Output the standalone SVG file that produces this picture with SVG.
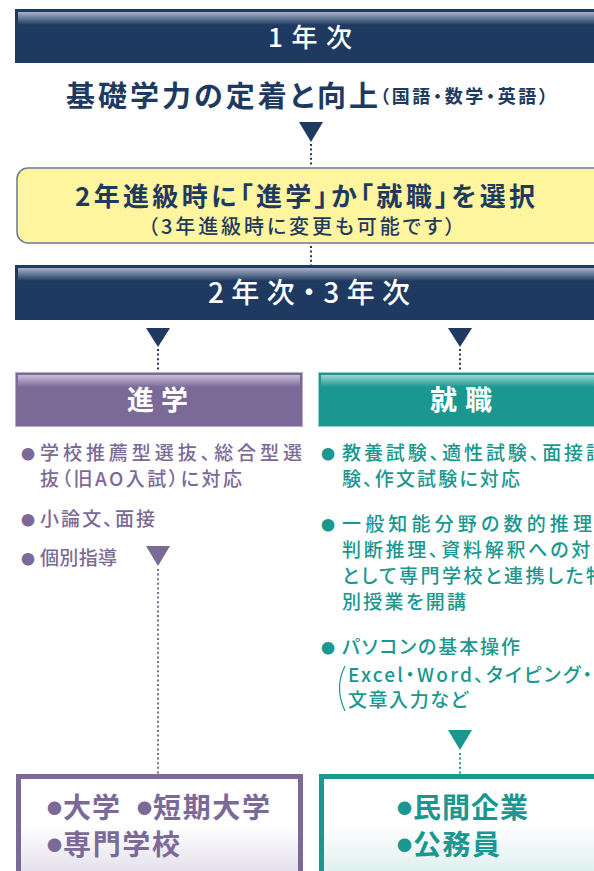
<svg xmlns="http://www.w3.org/2000/svg" width="594" height="871" viewBox="0 0 594 871">
<defs>
<linearGradient id="hlN" x1="0" y1="0" x2="0" y2="1"><stop offset="0" stop-color="#a7b3c7"/><stop offset="1" stop-color="#1f3a60"/></linearGradient>
<linearGradient id="hlP" x1="0" y1="0" x2="0" y2="1"><stop offset="0" stop-color="#c9bfd9"/><stop offset="1" stop-color="#7b6a98"/></linearGradient>
<linearGradient id="hlT" x1="0" y1="0" x2="0" y2="1"><stop offset="0" stop-color="#9fd6d1"/><stop offset="1" stop-color="#1a988f"/></linearGradient>
<linearGradient id="bgP" x1="0" y1="0" x2="0" y2="1"><stop offset="0" stop-color="#ffffff"/><stop offset="0.45" stop-color="#ffffff"/><stop offset="1" stop-color="#dcd6e6"/></linearGradient>
<linearGradient id="bgT" x1="0" y1="0" x2="0" y2="1"><stop offset="0" stop-color="#ffffff"/><stop offset="0.45" stop-color="#ffffff"/><stop offset="1" stop-color="#d3ebe9"/></linearGradient>
</defs>
<style>
text{font-family:"Noto Sans CJK JP","Noto Sans",sans-serif;font-feature-settings:"palt"}
.w{fill:#ffffff;font-weight:700}
.wm{fill:#ffffff;font-weight:500}
.n{fill:#1f3a60;font-weight:700}
.nr{fill:#1f3a60;font-weight:500}
.p{fill:#7b6a98;font-weight:500}
.t{fill:#1a988f;font-weight:500}
.pb{fill:#7b6a98;font-weight:700}
.tb{fill:#1a988f;font-weight:700}
.dn{stroke:#1f3a60;stroke-width:2;stroke-dasharray:2 2.6;fill:none}
.dp{stroke:#7b6a98;stroke-width:2;stroke-dasharray:2 2.6;fill:none}
.dt{stroke:#1a988f;stroke-width:2;stroke-dasharray:2 2.6;fill:none}
</style>
<rect width="594" height="871" fill="#ffffff"/>

<g id="connectors">
<polygon points="299,122 323,122 311,142" fill="#1f3a60"/>
<line class="dn" x1="311" y1="144" x2="311" y2="167"/>
<line class="dn" x1="311" y1="246" x2="311" y2="265"/>
<polygon points="146,328 170,328 158,347" fill="#1f3a60"/>
<line class="dn" x1="158" y1="349" x2="158" y2="372"/>
<polygon points="448,328 472,328 460,347" fill="#1f3a60"/>
<line class="dn" x1="460" y1="349" x2="460" y2="372"/>
<polygon points="146,546 170,546 158,566" fill="#7b6a98"/>
<line class="dp" x1="158" y1="569" x2="158" y2="774"/>
<polygon points="448,730 472,730 460,750" fill="#1a988f"/>
<line class="dt" x1="460" y1="753" x2="460" y2="774"/>
</g>

<g id="year1">
<rect x="15" y="9" width="590" height="54" fill="#1f3a60"/>
<rect x="18" y="12" width="590" height="13" fill="url(#hlN)"/>
<text class="wm" x="268" y="47" font-size="26" textLength="84" lengthAdjust="spacing">1年次</text>
</g>

<g id="basic">
<text class="n" x="66" y="107" font-size="29" textLength="312" lengthAdjust="spacing">基礎学力の定着と向上</text>
<text class="n" x="380" y="103" font-size="18" textLength="168" lengthAdjust="spacing">（国語・数学・英語）</text>
</g>

<g id="choice">
<rect x="17" y="168" width="600" height="75" rx="11" fill="#fff59e" stroke="#6a7898" stroke-width="1.5"/>
<text class="n" x="75" y="206" font-size="26" textLength="460" lengthAdjust="spacing">2年進級時に「進学」か「就職」を選択</text>
<text class="nr" x="148" y="234" font-size="20" textLength="307" lengthAdjust="spacing">（3年進級時に変更も可能です）</text>
</g>

<g id="year23">
<rect x="15" y="265" width="590" height="55" fill="#1f3a60"/>
<rect x="18" y="268" width="590" height="13" fill="url(#hlN)"/>
<text class="wm" x="208" y="303" font-size="28" textLength="202" lengthAdjust="spacing">2年次・3年次</text>
</g>

<g id="shingaku">
<rect x="15.5" y="372.5" width="287" height="54" fill="#7b6a98" stroke="#b7abc9" stroke-width="1"/>
<rect x="18" y="375" width="282" height="12" fill="url(#hlP)"/>
<text class="w" x="127" y="410" font-size="27" textLength="61" lengthAdjust="spacing">進学</text>
<text class="p" x="21" y="460" font-size="19"><tspan font-size="14" dy="-1">●</tspan><tspan x="40" dy="1" textLength="262" lengthAdjust="spacing">学校推薦型選抜、総合型選</tspan></text>
<text class="p" x="40" y="486" font-size="19" textLength="202" lengthAdjust="spacing">抜（旧AO入試）に対応</text>
<text class="p" x="21" y="526" font-size="19"><tspan font-size="14" dy="-1">●</tspan><tspan x="40" dy="1" textLength="115" lengthAdjust="spacing">小論文、面接</tspan></text>
<text class="p" x="21" y="565" font-size="19"><tspan font-size="14" dy="-1">●</tspan><tspan x="40" dy="1" textLength="77" lengthAdjust="spacing">個別指導</tspan></text>
</g>

<g id="shushoku">
<rect x="318.5" y="372.5" width="290" height="54" fill="#1a988f" stroke="#8fcfca" stroke-width="1"/>
<rect x="321" y="375" width="290" height="12" fill="url(#hlT)"/>
<text class="w" x="430" y="410" font-size="27" textLength="62" lengthAdjust="spacing">就職</text>
<text class="t" x="321" y="460" font-size="19"><tspan font-size="14" dy="-1">●</tspan><tspan x="342" dy="1" textLength="263" lengthAdjust="spacing">教養試験、適性試験、面接試</tspan></text>
<text class="t" x="342" y="486" font-size="19" textLength="178" lengthAdjust="spacing">験、作文試験に対応</text>
<text class="t" x="321" y="531" font-size="19"><tspan font-size="14" dy="-1">●</tspan><tspan x="342" dy="1" textLength="250" lengthAdjust="spacing">一般知能分野の数的推理</tspan></text>
<text class="t" x="342" y="557" font-size="19" textLength="270" lengthAdjust="spacing">判断推理、資料解釈への対策</text>
<text class="t" x="342" y="583" font-size="19" textLength="263" lengthAdjust="spacing">として専門学校と連携した特</text>
<text class="t" x="342" y="609" font-size="19" textLength="124" lengthAdjust="spacing">別授業を開講</text>
<text class="t" x="321" y="654" font-size="19"><tspan font-size="14" dy="-1">●</tspan><tspan x="342" dy="1" textLength="178" lengthAdjust="spacing">パソコンの基本操作</tspan></text>
<path d="M345,666 Q334,688 345,711" fill="none" stroke="#1a988f" stroke-width="1.2"/>
<text class="t" x="348" y="682" font-size="19" textLength="244" lengthAdjust="spacing">Excel・Word、タイピング・</text>
<text class="t" x="348" y="707" font-size="19" textLength="120" lengthAdjust="spacing">文章入力など</text>
</g>

<g id="dest-shingaku">
<rect x="18.5" y="776.5" width="282" height="110" fill="url(#bgP)" stroke="#7b6a98" stroke-width="5"/>
<text class="pb" x="47" y="818" font-size="28"><tspan font-size="15" dy="-4">●</tspan><tspan x="63" dy="4" textLength="57" lengthAdjust="spacing">大学</tspan><tspan x="137" font-size="15" dy="-4">●</tspan><tspan x="153" dy="4" textLength="117" lengthAdjust="spacing">短期大学</tspan></text>
<text class="pb" x="47" y="855" font-size="28"><tspan font-size="15" dy="-4">●</tspan><tspan x="63" dy="4" textLength="117" lengthAdjust="spacing">専門学校</tspan></text>
</g>

<g id="dest-shushoku">
<rect x="321.5" y="776.5" width="290" height="110" fill="url(#bgT)" stroke="#1a988f" stroke-width="5"/>
<text class="tb" x="397" y="818" font-size="28"><tspan font-size="15" dy="-4">●</tspan><tspan x="413" dy="4" textLength="115" lengthAdjust="spacing">民間企業</tspan></text>
<text class="tb" x="397" y="855" font-size="28"><tspan font-size="15" dy="-4">●</tspan><tspan x="413" dy="4" textLength="87" lengthAdjust="spacing">公務員</tspan></text>
</g>
</svg>
